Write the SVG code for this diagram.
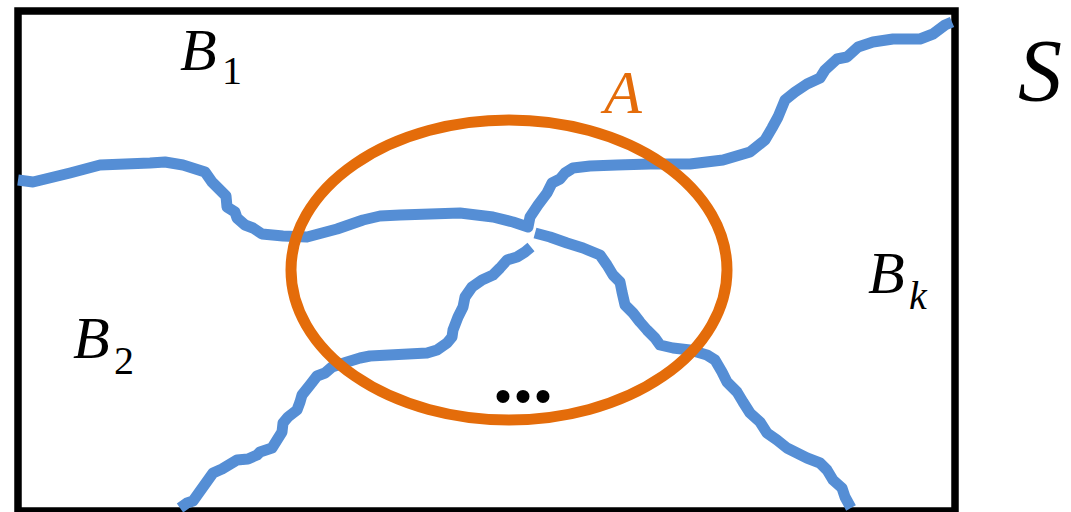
<svg xmlns="http://www.w3.org/2000/svg" width="1071" height="512" viewBox="0 0 1071 512">
<style>
.frame{fill:none;stroke:#000;stroke-width:7.5}
.curve{fill:none;stroke:#558ED5;stroke-width:11;stroke-linejoin:round;stroke-linecap:butt}
.set{fill:none;stroke:#E46C0A;stroke-width:11}
.lbl{font-family:"Liberation Serif",serif;font-style:italic;fill:#000}
.sub{font-family:"Liberation Serif",serif;fill:#000}
</style>
<rect width="1071" height="512" fill="#fff"/>
<g id="frame"><rect class="frame" x="18" y="11" width="937" height="500"/></g>
<g id="connectors">
<path class="curve" d="M18,180 L33,182 L70,173 L100,165 L150,163 L165,162 L183,165 L205,172 L212,182 L220,190 L226,196 L227,207 L235,212 L237,218 L245,225 L253,228 L262,234 L283,236 L307,237 L337,229 L363,220 L380,216 L400,215 L460,213 L493,217 L513,222 L528,227 L530,217 L538,205 L547,193 L552,183 L560,179 L565,173 L573,168 L590,166 L617,165 L650,164 L690,164 L723,160 L750,152 L765,140 L772,128 L778,117 L785,100 L795,92 L807,84 L820,78 L825,70 L837,59 L847,57 L858,47 L873,42 L893,39 L920,39 L933,34 L945,25 L952,22"/>
<path class="curve" d="M180,508 L187,503 L193,501 L203,487 L213,473 L222,469 L237,460 L248,459 L257,455 L260,452 L272,448 L277,440 L282,432 L283,423 L288,417 L297,410 L300,402 L302,395 L310,385 L317,376 L325,373 L332,367 L347,362 L360,358 L370,356 L427,353 L437,350 L447,343 L452,337 L453,330 L458,317 L463,307 L465,297 L472,287 L482,280 L493,275 L500,268 L507,260 L517,257 L525,252 L531,247"/>
<path class="curve" d="M535,233 L550,237 L567,243 L583,248 L600,255 L607,265 L613,275 L620,282 L622,292 L625,305 L633,313 L640,322 L647,330 L655,338 L660,345 L673,348 L690,350 L707,355 L715,360 L722,372 L727,382 L737,392 L743,402 L750,413 L760,422 L767,433 L777,440 L787,448 L797,453 L807,458 L820,463 L827,470 L833,480 L842,488 L845,497 L851,508"/>
</g>
<g id="setA"><ellipse class="set" cx="509" cy="270" rx="218" ry="150"/>
<text x="604" y="113" font-family="Liberation Serif, serif" font-style="italic" font-size="62" fill="#E46C0A">A</text></g>
<g id="B1"><text class="lbl" x="180" y="70" font-size="60">B</text><text class="sub" x="222" y="84" font-size="40">1</text></g>
<g id="B2"><text class="lbl" x="73" y="358" font-size="60">B</text><text class="sub" x="114" y="374" font-size="40">2</text></g>
<g id="Bk"><text class="lbl" x="868" y="293" font-size="60">B</text><text class="lbl" x="909" y="309" font-size="40">k</text></g>
<g id="S"><text class="lbl" x="1018" y="100" font-size="88">S</text></g>
<g id="dots"><text x="523" y="402" text-anchor="middle" font-family="Liberation Serif, serif" font-weight="bold" font-size="80" fill="#000">...</text></g>
</svg>
